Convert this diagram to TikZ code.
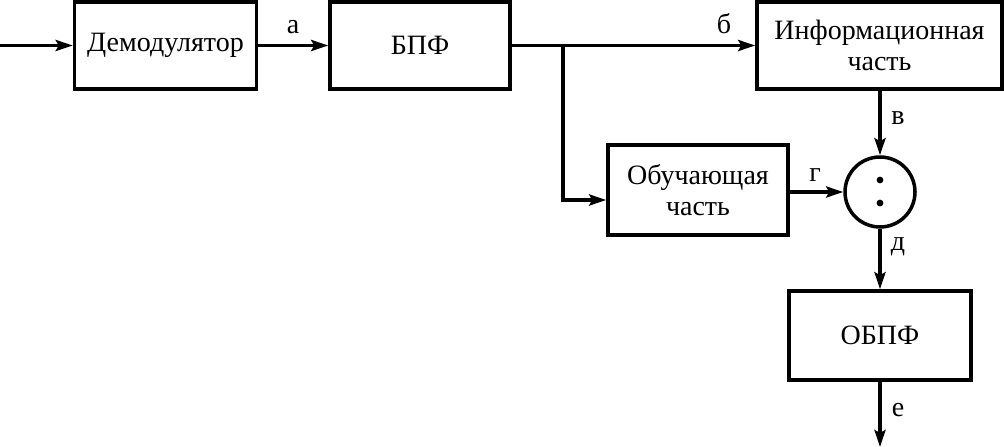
\documentclass[tikz,border=0pt]{standalone}
\usepackage{fontspec}
\setmainfont{Liberation Serif}
\usetikzlibrary{arrows.meta,calc}
\begin{document}
\begin{tikzpicture}[x=1pt,y=-1pt,
  blk/.style={draw,line width=3.5pt,minimum height=87pt,inner sep=0pt,align=center,font=\fontsize{28}{33}\selectfont},
  lbl/.style={font=\fontsize{28}{33}\selectfont,inner sep=0pt},
  conn/.style={line width=3.5pt,-{Stealth[length=17pt,width=11pt,inset=3pt]}},
  wire/.style={line width=3.5pt}]
\useasboundingbox (0,0) rectangle (1004,447);
\node[blk,minimum width=182pt] (dem) at (165.5,45.5) {Демодулятор};
\node[blk,minimum width=180pt] (bpf) at (420,45.5) {БПФ};
\node[blk,minimum width=245pt] (info) at (879.5,45.5) {Информационная\\[-2pt]часть};
\node[blk,minimum width=180pt,minimum height=90pt] (obu) at (698,190) {Обучающая\\[-2pt]часть};
\node[draw,circle,line width=3.5pt,minimum size=70pt,inner sep=0pt] (div) at (880,192) {};
\fill (880,180) circle (3.4pt);
\fill (880,203) circle (3.4pt);
\node[blk,minimum width=182pt,minimum height=89pt] (obpf) at (880,335.5) {ОБПФ};
\coordinate (in) at (0,45.5);
\coordinate (out) at (880,447);
\coordinate (br) at (563,45.5);
\coordinate (c1) at (563,200);
\draw[conn] (in) -- (dem.west);
\draw[conn] (dem.east) -- (bpf.west);
\draw[conn] (bpf.east) -- (info.west);
\draw[conn] (br) -- (c1) -- (c1 -| obu.west);
\draw[conn] (obu.east |- div.west) -- (div.west);
\draw[conn] (info.south -| div.north) -- (div.north);
\draw[conn] (div.south) -- (obpf.north);
\draw[conn] (obpf.south) -- (out);
\node[lbl] (la) at (293,27) {а};
\node[lbl] (lb) at (724,24) {б};
\node[lbl] (lv) at (898,118) {в};
\node[lbl] (lg) at (815,175) {г};
\node[lbl] (ld) at (898,247) {д};
\node[lbl] (le) at (898,410) {е};
\end{tikzpicture}
\end{document}
